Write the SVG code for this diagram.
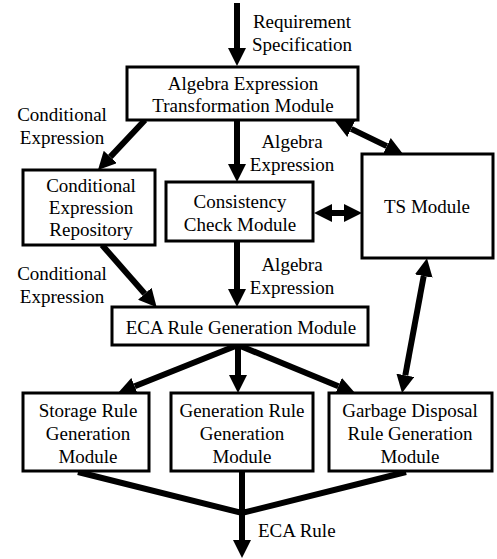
<svg xmlns="http://www.w3.org/2000/svg" width="497" height="559" viewBox="0 0 497 559" font-family="'Liberation Serif', 'Times New Roman', serif" font-size="19">
<style>
.box{fill:#fff;stroke:#000;stroke-width:3}
.t{font-family:'Liberation Serif','Times New Roman',serif;font-size:19px;fill:#000}
.c{text-anchor:middle}
.edge{stroke:#000;stroke-width:6;fill:none}
.ar{marker-end:url(#ah)}
.bi{marker-start:url(#ah);marker-end:url(#ah)}
</style>
<defs>
<marker id="ah" markerUnits="userSpaceOnUse" markerWidth="18" markerHeight="18" refX="0" refY="9" orient="auto-start-reverse" viewBox="0 0 18 18">
<path d="M0,0 L18,9 L0,18 z" fill="#000"/>
</marker>
</defs>
<g id="connectors">
<line class="edge ar" x1="237" y1="3" x2="237" y2="48"/>
<line class="edge ar" x1="145" y1="120" x2="110.3" y2="156.9"/>
<line class="edge ar" x1="237" y1="120" x2="237" y2="164"/>
<line class="edge bi" x1="351.2" y1="128.9" x2="386.8" y2="146.1"/>
<line class="edge bi" x1="332" y1="213" x2="344" y2="213"/>
<line class="edge ar" x1="237" y1="241" x2="237" y2="289"/>
<line class="edge ar" x1="102" y1="245" x2="144.8" y2="293.7"/>
<line class="edge ar" x1="238" y1="345" x2="134.7" y2="386.3"/>
<line class="edge ar" x1="238" y1="345" x2="238" y2="375"/>
<line class="edge ar" x1="238" y1="345" x2="338.4" y2="386.2"/>
<line class="edge bi" x1="423.7" y1="276" x2="405.3" y2="375.3"/>
<polyline class="edge" points="78,472 242,513 406,472"/>
<line class="edge ar" x1="242" y1="471" x2="242" y2="540"/>
</g>
<g id="labels" class="t">
<text class="t c" x="302" y="28">Requirement</text>
<text class="t c" x="302" y="51">Specification</text>
<text class="t c" x="62" y="121">Conditional</text>
<text class="t c" x="62" y="144">Expression</text>
<text class="t c" x="292" y="148">Algebra</text>
<text class="t c" x="292" y="171">Expression</text>
<text class="t c" x="292" y="271">Algebra</text>
<text class="t c" x="292" y="294">Expression</text>
<text class="t c" x="62" y="280">Conditional</text>
<text class="t c" x="62" y="303">Expression</text>
<text class="t" x="258" y="537">ECA Rule</text>
</g>
<g id="transform">
<rect class="box" x="127" y="67" width="231" height="53"/>
<text class="t c" x="243" y="90">Algebra Expression</text>
<text class="t c" x="243" y="112">Transformation Module</text>
</g>
<g id="cer">
<rect class="box" x="23" y="170" width="132" height="75"/>
<text class="t c" x="91" y="192">Conditional</text>
<text class="t c" x="91" y="214">Expression</text>
<text class="t c" x="91" y="236">Repository</text>
</g>
<g id="consistency">
<rect class="box" x="166" y="182" width="147" height="59"/>
<text class="t c" x="240" y="208">Consistency</text>
<text class="t c" x="240" y="231">Check Module</text>
</g>
<g id="ts">
<rect class="box" x="362" y="154" width="131" height="104"/>
<text class="t c" x="427" y="213">TS Module</text>
</g>
<g id="eca">
<rect class="box" x="112" y="307" width="256" height="38"/>
<text class="t c" x="241" y="334">ECA Rule Generation Module</text>
</g>
<g id="storage">
<rect class="box" x="23" y="393" width="126" height="78"/>
<text class="t c" x="88" y="417">Storage Rule</text>
<text class="t c" x="88" y="440">Generation</text>
<text class="t c" x="88" y="463">Module</text>
</g>
<g id="generation">
<rect class="box" x="171" y="393" width="142" height="78"/>
<text class="t c" x="242" y="417">Generation Rule</text>
<text class="t c" x="242" y="440">Generation</text>
<text class="t c" x="242" y="463">Module</text>
</g>
<g id="garbage">
<rect class="box" x="329" y="393" width="163" height="78"/>
<text class="t c" x="410" y="417">Garbage Disposal</text>
<text class="t c" x="410" y="440">Rule Generation</text>
<text class="t c" x="410" y="463">Module</text>
</g>
</svg>
